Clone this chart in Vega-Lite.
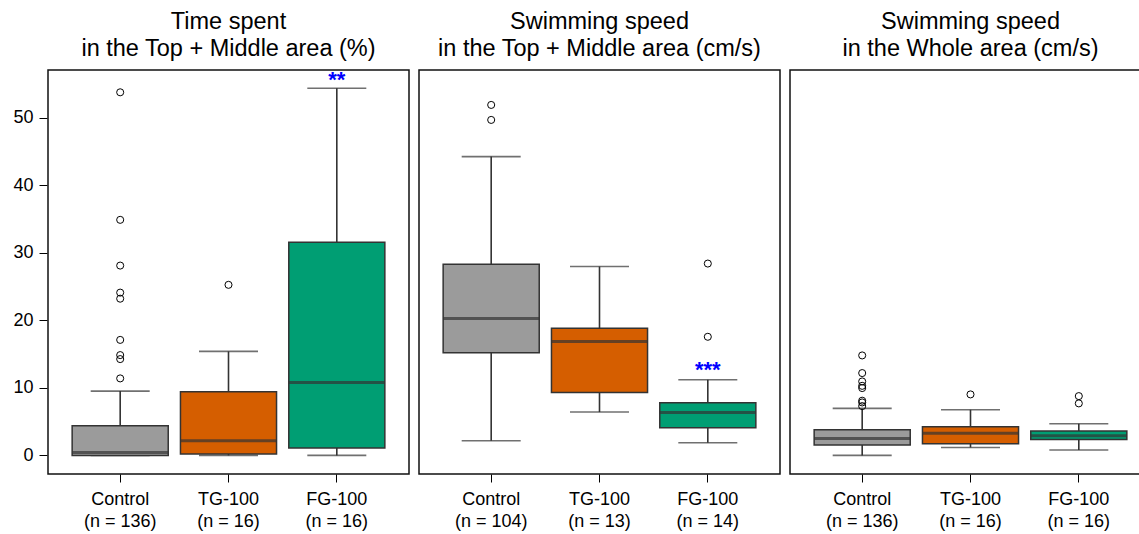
{
  "$schema": "https://vega.github.io/schema/vega-lite/v6.json",
  "padding": {"left": 12, "top": 9, "right": 0, "bottom": 0},
  "data": {"values": [
    {"panel": "p1", "group": "Control", "lab": "Control|(n = 136)", "type": "box", "lo": 0, "q1": 0, "med": 0.45, "q3": 4.39, "hi": 9.52},
    {"panel": "p1", "group": "TG-100", "lab": "TG-100|(n = 16)", "type": "box", "lo": 0, "q1": 0.2, "med": 2.17, "q3": 9.42, "hi": 15.4},
    {"panel": "p1", "group": "FG-100", "lab": "FG-100|(n = 16)", "type": "box", "lo": 0, "q1": 1.09, "med": 10.8, "q3": 31.56, "hi": 54.35},
    {"panel": "p1", "group": "Control", "lab": "Control|(n = 136)", "type": "out", "v": 53.75},
    {"panel": "p1", "group": "Control", "lab": "Control|(n = 136)", "type": "out", "v": 34.87},
    {"panel": "p1", "group": "Control", "lab": "Control|(n = 136)", "type": "out", "v": 28.1},
    {"panel": "p1", "group": "Control", "lab": "Control|(n = 136)", "type": "out", "v": 24.1},
    {"panel": "p1", "group": "Control", "lab": "Control|(n = 136)", "type": "out", "v": 23.2},
    {"panel": "p1", "group": "Control", "lab": "Control|(n = 136)", "type": "out", "v": 17.1},
    {"panel": "p1", "group": "Control", "lab": "Control|(n = 136)", "type": "out", "v": 14.85},
    {"panel": "p1", "group": "Control", "lab": "Control|(n = 136)", "type": "out", "v": 14.26},
    {"panel": "p1", "group": "Control", "lab": "Control|(n = 136)", "type": "out", "v": 11.4},
    {"panel": "p1", "group": "TG-100", "lab": "TG-100|(n = 16)", "type": "out", "v": 25.25},
    {"panel": "p1", "group": "FG-100", "lab": "FG-100|(n = 16)", "type": "ann", "v": 54.5, "txt": "**"},
    {"panel": "p2", "group": "Control", "lab": "Control|(n = 104)", "type": "box", "lo": 2.17, "q1": 15.19, "med": 20.27, "q3": 28.3, "hi": 44.23},
    {"panel": "p2", "group": "TG-100", "lab": "TG-100|(n = 13)", "type": "box", "lo": 6.42, "q1": 9.32, "med": 16.87, "q3": 18.84, "hi": 27.96},
    {"panel": "p2", "group": "FG-100", "lab": "FG-100|(n = 14)", "type": "box", "lo": 1.88, "q1": 4.1, "med": 6.37, "q3": 7.8, "hi": 11.2},
    {"panel": "p2", "group": "Control", "lab": "Control|(n = 104)", "type": "out", "v": 51.88},
    {"panel": "p2", "group": "Control", "lab": "Control|(n = 104)", "type": "out", "v": 49.66},
    {"panel": "p2", "group": "FG-100", "lab": "FG-100|(n = 14)", "type": "out", "v": 28.4},
    {"panel": "p2", "group": "FG-100", "lab": "FG-100|(n = 14)", "type": "out", "v": 17.56},
    {"panel": "p2", "group": "FG-100", "lab": "FG-100|(n = 14)", "type": "ann", "v": 11.6, "txt": "***"},
    {"panel": "p3", "group": "Control", "lab": "Control|(n = 136)", "type": "box", "lo": 0, "q1": 1.53, "med": 2.52, "q3": 3.8, "hi": 6.96},
    {"panel": "p3", "group": "TG-100", "lab": "TG-100|(n = 16)", "type": "box", "lo": 1.18, "q1": 1.73, "med": 3.3, "q3": 4.25, "hi": 6.76},
    {"panel": "p3", "group": "FG-100", "lab": "FG-100|(n = 16)", "type": "box", "lo": 0.8, "q1": 2.37, "med": 2.9, "q3": 3.6, "hi": 4.69},
    {"panel": "p3", "group": "Control", "lab": "Control|(n = 136)", "type": "out", "v": 14.8},
    {"panel": "p3", "group": "Control", "lab": "Control|(n = 136)", "type": "out", "v": 12.19},
    {"panel": "p3", "group": "Control", "lab": "Control|(n = 136)", "type": "out", "v": 10.95},
    {"panel": "p3", "group": "Control", "lab": "Control|(n = 136)", "type": "out", "v": 10.3},
    {"panel": "p3", "group": "Control", "lab": "Control|(n = 136)", "type": "out", "v": 9.97},
    {"panel": "p3", "group": "Control", "lab": "Control|(n = 136)", "type": "out", "v": 8.1},
    {"panel": "p3", "group": "Control", "lab": "Control|(n = 136)", "type": "out", "v": 7.84},
    {"panel": "p3", "group": "Control", "lab": "Control|(n = 136)", "type": "out", "v": 7.3},
    {"panel": "p3", "group": "TG-100", "lab": "TG-100|(n = 16)", "type": "out", "v": 9.03},
    {"panel": "p3", "group": "FG-100", "lab": "FG-100|(n = 16)", "type": "out", "v": 8.78},
    {"panel": "p3", "group": "FG-100", "lab": "FG-100|(n = 16)", "type": "out", "v": 7.7}
  ]},
  "facet": {
    "column": {
      "field": "panel", "type": "nominal", "title": null,
      "header": {
        "labelExpr": "datum.value == 'p1' ? ['Time spent', 'in the Top + Middle area (%)'] : datum.value == 'p2' ? ['Swimming speed', 'in the Top + Middle area (cm/s)'] : ['Swimming speed', 'in the Whole area (cm/s)']",
        "labelFontSize": 23.5, "labelLineHeight": 27, "labelColor": "#000", "labelFont": "Liberation Sans", "labelPadding": 8
      }
    }
  },
  "spacing": 8,
  "resolve": {"scale": {"x": "independent"}},
  "spec": {
    "width": 361,
    "height": 404,
    "encoding": {
      "x": {
        "field": "lab", "type": "nominal", "title": null,
        "sort": ["Control|(n = 136)", "Control|(n = 104)", "TG-100|(n = 16)", "TG-100|(n = 13)", "FG-100|(n = 16)", "FG-100|(n = 14)"],
        "scale": {"paddingInner": 0.113, "paddingOuter": 0.223},
        "axis": {"labelExpr": "split(datum.value, '|')", "labelAngle": 0, "labelFontSize": 18, "labelLineHeight": 22, "tickSize": 8, "domain": false, "tickColor": "#000", "labelColor": "#000", "labelPadding": 8, "labelBaseline": "top"}
      }
    },
    "layer": [
      {
        "transform": [{"filter": "datum.type == 'box'"}],
        "mark": {"type": "rule", "color": "#333", "strokeWidth": 1.6},
        "encoding": {"y": {"field": "lo", "type": "quantitative", "scale": {"domain": [-2.75, 57.05], "nice": false, "zero": false}, "title": null, "axis": {"values": [0, 10, 20, 30, 40, 50], "tickSize": 8, "labelFontSize": 18, "labelColor": "#000", "tickColor": "#000", "domain": false, "labelPadding": 6, "grid": false}}, "y2": {"field": "q1"}}
      },
      {
        "transform": [{"filter": "datum.type == 'box'"}],
        "mark": {"type": "rule", "color": "#333", "strokeWidth": 1.6},
        "encoding": {"y": {"field": "q3", "type": "quantitative"}, "y2": {"field": "hi"}}
      },
      {
        "transform": [{"filter": "datum.type == 'box'"}],
        "mark": {"type": "tick", "color": "#333", "size": 59, "thickness": 1.6, "orient": "horizontal"},
        "encoding": {"y": {"field": "lo", "type": "quantitative"}}
      },
      {
        "transform": [{"filter": "datum.type == 'box'"}],
        "mark": {"type": "tick", "color": "#333", "size": 59, "thickness": 1.6, "orient": "horizontal"},
        "encoding": {"y": {"field": "hi", "type": "quantitative"}}
      },
      {
        "transform": [{"filter": "datum.type == 'box'"}],
        "mark": {"type": "bar", "stroke": "#333", "strokeWidth": 1.5},
        "encoding": {
          "y": {"field": "q1", "type": "quantitative"}, "y2": {"field": "q3"},
          "color": {"field": "group", "type": "nominal", "scale": {"domain": ["Control", "TG-100", "FG-100"], "range": ["#9b9b9b", "#d55e00", "#009e73"]}, "legend": null}
        }
      },
      {
        "transform": [{"filter": "datum.type == 'box'"}],
        "mark": {"type": "tick", "color": "#333", "size": 96, "thickness": 3, "orient": "horizontal"},
        "encoding": {"y": {"field": "med", "type": "quantitative"}}
      },
      {
        "transform": [{"filter": "datum.type == 'out'"}],
        "mark": {"type": "point", "shape": "circle", "filled": false, "stroke": "#000", "strokeWidth": 1, "size": 50, "opacity": 1},
        "encoding": {"y": {"field": "v", "type": "quantitative"}}
      },
      {
        "transform": [{"filter": "datum.type == 'ann'"}],
        "mark": {"type": "text", "color": "#0000ff", "fontSize": 22, "fontWeight": "bold", "baseline": "alphabetic", "align": "center"},
        "encoding": {"y": {"field": "v", "type": "quantitative"}, "text": {"field": "txt"}}
      }
    ]
  },
  "config": {
    "font": "Liberation Sans",
    "view": {"stroke": "#111", "strokeWidth": 1.5},
    "axis": {"grid": false}
  }
}
